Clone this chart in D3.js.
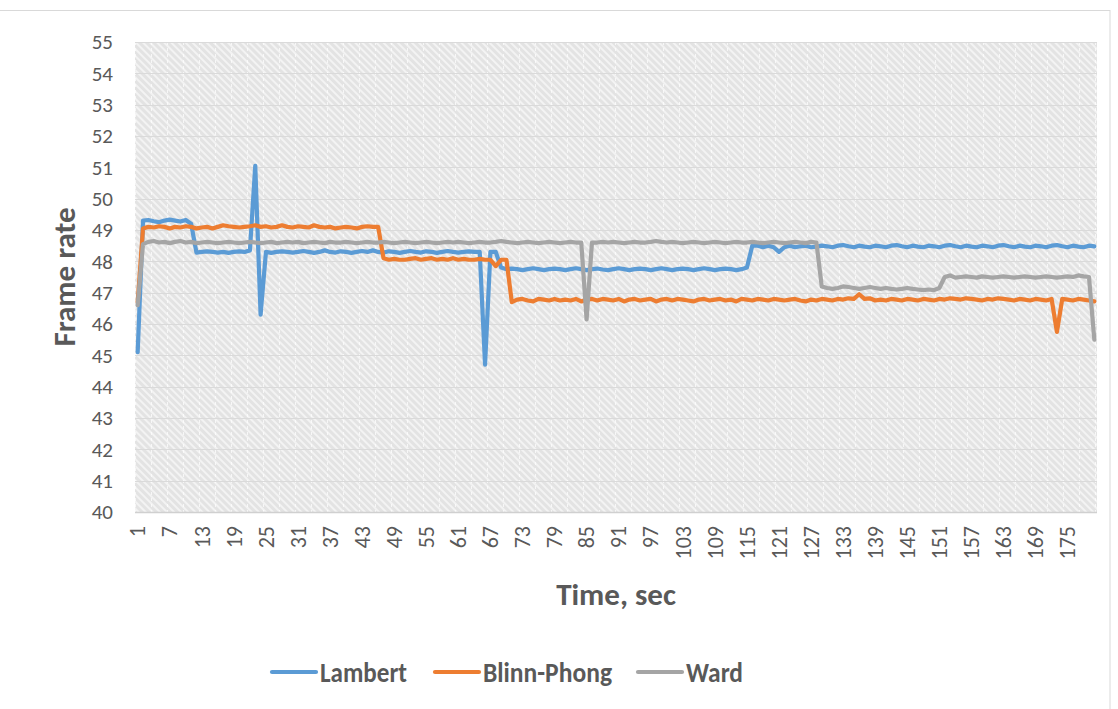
<!DOCTYPE html>
<html>
<head>
<meta charset="utf-8">
<script src="https://cdn.jsdelivr.net/npm/d3@7"></script>
<style>
  html, body { margin: 0; padding: 0; background: #ffffff; }
  svg { display: block; }
  text { font-family: Carlito, Calibri, Lato, "Open Sans", sans-serif; fill: #595959; }
</style>
</head>
<body>
<svg id="chart" width="1118" height="709"></svg>
<script>
// Time axis: one sample per second
const seconds = d3.range(1, 181);

// Frame rate per second, rows of ten samples
const lambert = [
  45.1, 49.3, 49.32, 49.28, 49.25, 49.3, 49.33, 49.3, 49.27, 49.32,
  49.2, 48.28, 48.3, 48.32, 48.3, 48.28, 48.3, 48.27, 48.3, 48.32,
  48.3, 48.35, 51.05, 46.3, 48.3, 48.27, 48.3, 48.32, 48.3, 48.28,
  48.3, 48.33, 48.3, 48.27, 48.3, 48.35, 48.3, 48.28, 48.32, 48.3,
  48.27, 48.3, 48.33, 48.3, 48.35, 48.3, 48.28, 48.32, 48.3, 48.27,
  48.3, 48.33, 48.3, 48.28, 48.32, 48.3, 48.27, 48.3, 48.33, 48.3,
  48.28, 48.3, 48.32, 48.3, 48.3, 44.7, 48.3, 48.3, 47.8, 47.75,
  47.77, 47.75, 47.72, 47.75, 47.78, 47.75, 47.72, 47.75, 47.77, 47.75,
  47.72, 47.75, 47.78, 47.75, 47.72, 47.75, 47.77, 47.74, 47.72, 47.75,
  47.78, 47.75, 47.72, 47.75, 47.77, 47.75, 47.72, 47.75, 47.78, 47.75,
  47.72, 47.75, 47.77, 47.75, 47.72, 47.75, 47.78, 47.75, 47.72, 47.75,
  47.77, 47.75, 47.72, 47.75, 47.8, 48.5, 48.5, 48.45, 48.5, 48.45,
  48.3, 48.45, 48.5, 48.45, 48.48, 48.5, 48.45, 48.47, 48.5, 48.48,
  48.45, 48.5, 48.52, 48.48, 48.45, 48.5, 48.47, 48.45, 48.5, 48.48,
  48.45, 48.5, 48.52, 48.48, 48.45, 48.5, 48.47, 48.45, 48.5, 48.48,
  48.45, 48.5, 48.52, 48.48, 48.45, 48.5, 48.47, 48.45, 48.5, 48.48,
  48.45, 48.5, 48.52, 48.48, 48.45, 48.5, 48.47, 48.45, 48.5, 48.48,
  48.45, 48.5, 48.52, 48.48, 48.45, 48.5, 48.47, 48.45, 48.5, 48.48
];

const blinnPhong = [
  46.7, 49.05, 49.1, 49.08, 49.12, 49.1, 49.05, 49.1, 49.08, 49.12,
  49.1, 49.05, 49.08, 49.1, 49.05, 49.1, 49.15, 49.12, 49.1, 49.08,
  49.1, 49.12, 49.15, 49.1, 49.12, 49.08, 49.1, 49.15, 49.1, 49.08,
  49.12, 49.1, 49.08, 49.15, 49.1, 49.08, 49.1, 49.05, 49.08, 49.1,
  49.08, 49.05, 49.1, 49.12, 49.1, 49.1, 48.1, 48.05, 48.08, 48.05,
  48.05, 48.08, 48.1, 48.05, 48.08, 48.1, 48.05, 48.08, 48.05, 48.1,
  48.05, 48.08, 48.05, 48.05, 48.08, 48.05, 48.05, 47.85, 48.05, 48.05,
  46.7, 46.78, 46.8, 46.75, 46.72, 46.8, 46.78, 46.75, 46.8, 46.75,
  46.78, 46.75, 46.8, 46.72, 46.78, 46.8, 46.75, 46.8, 46.78, 46.75,
  46.8, 46.72, 46.78, 46.8, 46.75, 46.78, 46.8, 46.72, 46.78, 46.8,
  46.75, 46.8, 46.78, 46.75, 46.72, 46.78, 46.8, 46.75, 46.78, 46.8,
  46.75, 46.78, 46.72, 46.8, 46.78, 46.75, 46.8, 46.78, 46.75, 46.8,
  46.78, 46.75, 46.78, 46.8, 46.75, 46.72, 46.78, 46.75, 46.8, 46.78,
  46.75, 46.8, 46.78, 46.82, 46.8, 46.95, 46.8, 46.82, 46.75, 46.78,
  46.75, 46.8, 46.78, 46.75, 46.8, 46.78, 46.75, 46.8, 46.78, 46.75,
  46.8, 46.78, 46.82, 46.8, 46.78, 46.82, 46.8, 46.78, 46.75, 46.8,
  46.78, 46.82, 46.8, 46.78, 46.75, 46.8, 46.78, 46.75, 46.8, 46.78,
  46.75, 46.8, 45.75, 46.8, 46.78, 46.75, 46.8, 46.78, 46.75, 46.72
];

const ward = [
  46.6, 48.55, 48.62, 48.65, 48.6, 48.62, 48.58, 48.62, 48.65, 48.6,
  48.62, 48.58, 48.6, 48.62, 48.6, 48.58, 48.6, 48.62, 48.6, 48.58,
  48.6, 48.62, 48.6, 48.58, 48.6, 48.62, 48.58, 48.6, 48.62, 48.6,
  48.62, 48.58, 48.6, 48.62, 48.6, 48.58, 48.62, 48.6, 48.6, 48.62,
  48.6, 48.58, 48.6, 48.62, 48.6, 48.6, 48.62, 48.6, 48.58, 48.6,
  48.62, 48.6, 48.58, 48.6, 48.62, 48.6, 48.58, 48.6, 48.62, 48.6,
  48.62, 48.6, 48.58, 48.6, 48.62, 48.6, 48.6, 48.62, 48.65, 48.62,
  48.6, 48.58, 48.6, 48.62, 48.6, 48.58, 48.6, 48.62, 48.6, 48.58,
  48.6, 48.62, 48.6, 48.6, 46.15, 48.6, 48.6, 48.62, 48.6, 48.62,
  48.6, 48.58, 48.6, 48.62, 48.6, 48.6, 48.62, 48.65, 48.62, 48.6,
  48.62, 48.6, 48.58, 48.6, 48.62, 48.6, 48.58, 48.6, 48.62, 48.6,
  48.58, 48.6, 48.62, 48.6, 48.6, 48.62, 48.6, 48.58, 48.6, 48.62,
  48.6, 48.58, 48.6, 48.62, 48.6, 48.58, 48.62, 48.6, 47.2, 47.15,
  47.12, 47.15, 47.2, 47.18, 47.15, 47.12, 47.15, 47.18, 47.15, 47.12,
  47.15, 47.12, 47.1, 47.12, 47.15, 47.12, 47.1, 47.08, 47.1, 47.08,
  47.15, 47.5, 47.55, 47.48, 47.5, 47.52, 47.5, 47.48, 47.52, 47.5,
  47.48, 47.5, 47.52, 47.5, 47.48, 47.5, 47.52, 47.5, 47.48, 47.5,
  47.52, 47.5, 47.48, 47.5, 47.52, 47.5, 47.55, 47.52, 47.5, 45.5
];

const seriesNames = ["Lambert", "Blinn-Phong", "Ward"];
const seriesColors = ["#5b9bd5", "#ed7d31", "#a5a5a5"];
const seriesValues = [lambert, blinnPhong, ward];
const yTicks = d3.range(40, 56, 1);
const xTickLabels = seconds.filter((s, i) => i % 6 === 0);

const svg = d3.select("#chart");
const plot = { left: 135, right: 1097, top: 42, bottom: 512 };

// Outer chart frame
svg.append("rect")
  .attr("x", -1).attr("y", 10.5).attr("width", 1111).attr("height", 710)
  .attr("fill", "none").attr("stroke", "#d9d9d9").attr("stroke-width", 1);

const x = d3.scaleBand().domain(seconds).range([plot.left, plot.right]);
const y = d3.scaleLinear().domain([40, 55]).range([plot.bottom, plot.top]);

// Hatched plot-area fill
const defs = svg.append("defs");
const hatch = defs.append("pattern")
  .attr("id", "hatch").attr("patternUnits", "userSpaceOnUse")
  .attr("width", 5).attr("height", 5)
  .attr("patternTransform", "rotate(-45)");
hatch.append("rect").attr("width", 5).attr("height", 5).attr("fill", "#e3e3e3");
hatch.append("rect").attr("width", 2).attr("height", 5).attr("fill", "#f3f3f3");

const dashes = defs.append("pattern")
  .attr("id", "vdash").attr("patternUnits", "userSpaceOnUse")
  .attr("width", 16).attr("height", 6);
dashes.append("rect").attr("x", 7).attr("y", 0).attr("width", 1).attr("height", 3)
  .attr("fill", "#ffffff").attr("opacity", 0.7);

svg.append("rect")
  .attr("x", plot.left).attr("y", plot.top)
  .attr("width", plot.right - plot.left).attr("height", plot.bottom - plot.top)
  .attr("fill", "url(#hatch)");
svg.append("rect")
  .attr("x", plot.left).attr("y", plot.top)
  .attr("width", plot.right - plot.left).attr("height", plot.bottom - plot.top)
  .attr("fill", "url(#vdash)");

// Horizontal gridlines
svg.append("g")
  .selectAll("line")
  .data(yTicks)
  .join("line")
  .attr("x1", plot.left).attr("x2", plot.right)
  .attr("y1", d => Math.round(y(d)) + 0.5).attr("y2", d => Math.round(y(d)) + 0.5)
  .attr("stroke", d => d === 40 ? "#d0d0d0" : "#dadada")
  .attr("stroke-width", d => d === 40 ? 1.5 : 1);

// Y axis
const yAxis = svg.append("g")
  .attr("transform", `translate(${plot.left},0)`)
  .call(d3.axisLeft(y).tickValues(yTicks).tickSize(0).tickPadding(22));
yAxis.select(".domain").remove();
yAxis.selectAll("text")
  .attr("font-size", 21).attr("fill", "#595959")
  .style("font-family", "Carlito, Calibri, Lato, sans-serif");

// X axis, vertical labels
const xAxis = svg.append("g")
  .attr("transform", `translate(0,${plot.bottom})`)
  .call(d3.axisBottom(x).tickValues(xTickLabels).tickSize(0));
xAxis.select(".domain").remove();
xAxis.selectAll("text")
  .attr("font-size", 22).attr("fill", "#595959")
  .attr("transform", "rotate(-90)")
  .attr("text-anchor", "end")
  .attr("x", -14).attr("y", 0).attr("dy", "0.35em")
  .style("font-family", "Carlito, Calibri, Lato, sans-serif");

// Series lines
const line = d3.line()
  .x((d, i) => x(seconds[i]) + x.bandwidth() / 2)
  .y(d => y(d));

svg.append("g")
  .selectAll("path")
  .data(seriesValues)
  .join("path")
  .attr("d", line)
  .attr("fill", "none")
  .attr("stroke", (d, i) => seriesColors[i])
  .attr("stroke-width", 4.2)
  .attr("stroke-linejoin", "round")
  .attr("stroke-linecap", "round");

// Axis titles
svg.append("text")
  .attr("x", (plot.left + plot.right) / 2).attr("y", 605)
  .attr("text-anchor", "middle")
  .attr("font-size", 31).attr("font-weight", "bold")
  .text("Time, sec");

svg.append("text")
  .attr("transform", `translate(75,${(plot.top + plot.bottom) / 2}) rotate(-90)`)
  .attr("text-anchor", "middle")
  .attr("font-size", 31).attr("font-weight", "bold")
  .text("Frame rate");

// Legend
const legendX = [272, 435, 638];
const legendTextWidth = [87, 129, 57];
const legend = svg.append("g")
  .selectAll("g")
  .data(seriesNames)
  .join("g")
  .attr("transform", (d, i) => `translate(${legendX[i]},672)`);
legend.append("line")
  .attr("x1", 0).attr("x2", 44)
  .attr("stroke", (d, i) => seriesColors[i])
  .attr("stroke-width", 4.2).attr("stroke-linecap", "round");
legend.append("text")
  .attr("x", 48).attr("dy", "0.36em")
  .attr("font-size", 28).attr("font-weight", "bold")
  .attr("textLength", (d, i) => legendTextWidth[i])
  .attr("lengthAdjust", "spacingAndGlyphs")
  .text(d => d);
</script>
</body>
</html>
